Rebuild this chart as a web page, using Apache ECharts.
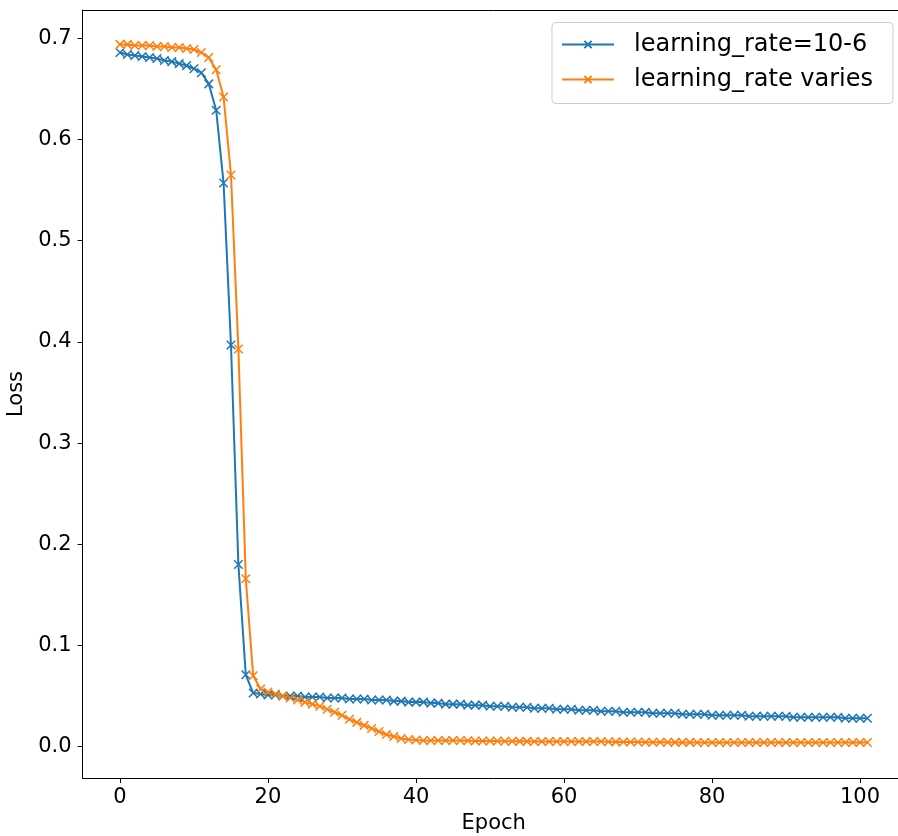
<!DOCTYPE html>
<html>
<head>
<meta charset="utf-8">
<script src="https://cdn.jsdelivr.net/npm/echarts@6/dist/echarts.min.js"></script>
<style>
html,body{margin:0;padding:0;background:#fff;overflow:hidden;width:898px;height:836px;}
#chart{width:930px;height:836px;}
</style>
</head>
<body>
<div id="chart"></div>
<script>
const seriesNames = ['learning_rate=10-6', 'learning_rate varies'];
const xTicks = [0, 20, 40, 60, 80, 100];
const yTicks = [0.0, 0.1, 0.2, 0.3, 0.4, 0.5, 0.6, 0.7];

const lossFixed = [
  0.686,0.684,0.683,0.682,0.681,0.680,0.678,0.677,0.675,0.673,
  0.670,0.666,0.655,0.629,0.557,0.397,0.180,0.071,0.053,0.052,
  0.051,0.051,0.050,0.050,0.050,0.049,0.049,0.049,0.048,0.048,
  0.048,0.047,0.047,0.047,0.046,0.046,0.046,0.045,0.045,0.044,
  0.044,0.044,0.043,0.043,0.042,0.042,0.042,0.041,0.041,0.041,
  0.040,0.040,0.040,0.039,0.039,0.039,0.038,0.038,0.038,0.037,
  0.037,0.037,0.036,0.036,0.036,0.035,0.035,0.035,0.034,0.034,
  0.034,0.034,0.033,0.033,0.033,0.033,0.032,0.032,0.032,0.032,
  0.031,0.031,0.031,0.031,0.031,0.030,0.030,0.030,0.030,0.030,
  0.030,0.029,0.029,0.029,0.029,0.029,0.029,0.029,0.028,0.028,
  0.028,0.028
];

const lossVaries = [
  0.694,0.694,0.693,0.693,0.693,0.692,0.692,0.691,0.691,0.690,
  0.689,0.686,0.681,0.669,0.642,0.565,0.393,0.166,0.070,0.057,
  0.054,0.052,0.050,0.048,0.046,0.044,0.042,0.040,0.037,0.034,
  0.031,0.027,0.024,0.021,0.018,0.015,0.012,0.010,0.008,0.007,
  0.0065,0.006,0.006,0.006,0.006,0.006,0.006,0.0058,0.0056,0.0055,
  0.0055,0.0055,0.0054,0.0053,0.0052,0.0052,0.005,0.005,0.005,0.005,
  0.005,0.005,0.005,0.005,0.005,0.005,0.0048,0.0047,0.0046,0.0045,
  0.0045,0.0044,0.0044,0.0043,0.0043,0.0042,0.0042,0.0042,0.0041,0.0041,
  0.004,0.004,0.004,0.004,0.004,0.004,0.004,0.004,0.004,0.004,
  0.004,0.004,0.004,0.004,0.004,0.004,0.004,0.004,0.004,0.004,
  0.004,0.004
];

const colors = ['#1f77b4', '#ff7f0e'];
const font = 'DejaVu Sans';
const xMark = 'path://M0,0L10,10M0,10L10,0';

function pairs(arr) { return arr.map((v, i) => [i, v]); }

const chart = echarts.init(document.getElementById('chart'), null, {renderer: 'canvas', width: 930, height: 836});

function mkSeries(name, data, color) {
  return {
    name: name,
    type: 'line',
    data: pairs(data),
    symbol: xMark,
    symbolSize: 8.5,
    showAllSymbol: true,
    lineStyle: {color: color, width: 2},
    itemStyle: {color: color, borderColor: color, borderWidth: 1.5},
    emphasis: {disabled: true},
    z: 2
  };
}

const xRange = {min: -5.05, max: 106.05};

chart.setOption({
  animation: false,
  backgroundColor: '#fff',
  grid: {
    left: 82.6, top: 10, right: 25.2, bottom: 58,
    containLabel: false,
    outerBoundsMode: 'none',
    show: false
  },
  legend: {
    orient: 'vertical',
    right: 37,
    top: 22.5,
    padding: [8, 20, 10, 9],
    itemWidth: 52,
    itemHeight: 9,
    itemGap: 7,
    backgroundColor: 'rgba(255,255,255,0.8)',
    borderColor: '#cccccc',
    borderWidth: 1,
    borderRadius: 4,
    textStyle: {fontFamily: font, fontSize: 24, color: '#000', lineHeight: 28, padding: [0, 0, 0, 15]},
    data: seriesNames
  },
  xAxis: [{
    type: 'value',
    min: xRange.min,
    max: xRange.max,
    name: 'Epoch',
    nameLocation: 'middle',
    nameGap: 34,
    nameTextStyle: {fontFamily: font, fontSize: 21, color: '#000'},
    axisLine: {show: true, onZero: false, lineStyle: {color: '#000', width: 1}},
    axisTick: {show: true, length: 5, customValues: xTicks, lineStyle: {color: '#000', width: 1}},
    axisLabel: {fontFamily: font, fontSize: 21, color: '#000', margin: 9, customValues: xTicks},
    splitLine: {show: false}
  }, {
    type: 'value',
    position: 'top',
    min: xRange.min,
    max: xRange.max,
    axisLine: {show: true, onZero: false, lineStyle: {color: '#000', width: 1}},
    axisTick: {show: false},
    axisLabel: {show: false},
    splitLine: {show: false}
  }],
  yAxis: {
    type: 'value',
    min: -0.031,
    max: 0.728,
    name: 'Loss',
    nameLocation: 'middle',
    nameGap: 47,
    nameTextStyle: {fontFamily: font, fontSize: 21, color: '#000'},
    axisLine: {show: true, onZero: false, lineStyle: {color: '#000', width: 1}},
    axisTick: {show: true, length: 5, customValues: yTicks, lineStyle: {color: '#000', width: 1}},
    axisLabel: {fontFamily: font, fontSize: 21, color: '#000', margin: 11, customValues: yTicks,
      formatter: v => Number(v).toFixed(1)},
    splitLine: {show: false}
  },
  series: [
    mkSeries(seriesNames[0], lossFixed, colors[0]),
    mkSeries(seriesNames[1], lossVaries, colors[1])
  ]
});
</script>
</body>
</html>
